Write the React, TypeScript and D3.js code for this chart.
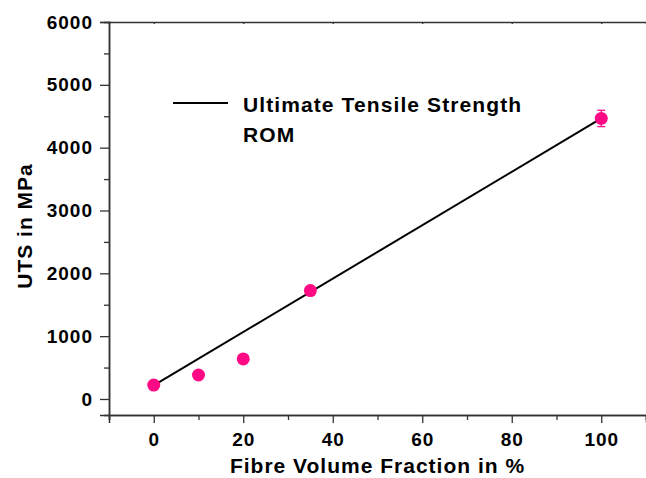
import React, { useEffect, useRef } from "react";
import * as d3 from "d3";

const width = 646;
const height = 478;
const margin = { top: 22, right: 0, bottom: 63, left: 109 };

// measured points
const fibreFraction = [0, 10, 20, 35, 100];
const utsValues = [222, 382, 637, 1725, 4465];
const utsErrors = [0, 0, 0, 0, 130];

// rule of mixtures line
const romFraction = [0, 100];
const romValues = [215, 4465];

const xMajor = [0, 20, 40, 60, 80, 100];
const xMinor = [-10, 10, 30, 50, 70, 90, 110];
const yMajor = [0, 1000, 2000, 3000, 4000, 5000, 6000];
const yMinor = [500, 1500, 2500, 3500, 4500, 5500];

const font = "'Liberation Sans', Arial, Helvetica, sans-serif";

const x = d3.scaleLinear().domain([-10, 110]).range([margin.left, width - margin.right]);
const y = d3.scaleLinear().domain([-255, 6000]).range([height - margin.bottom, margin.top]);

export default function App() {
  const xAxisRef = useRef<SVGGElement>(null);
  const yAxisRef = useRef<SVGGElement>(null);
  const xMinorRef = useRef<SVGGElement>(null);
  const yMinorRef = useRef<SVGGElement>(null);
  const topRef = useRef<SVGGElement>(null);

  useEffect(() => {
    const style = (g: d3.Selection<SVGGElement, unknown, null, undefined>) => {
      g.select(".domain").attr("stroke", "#333").attr("stroke-width", 1.5);
      g.selectAll(".tick line").attr("stroke", "#333").attr("stroke-width", 1.3);
      g.selectAll(".tick text")
        .attr("fill", "#000")
        .style("font-family", font)
        .style("font-size", "19px")
        .style("font-weight", "bold")
        .style("letter-spacing", "1px");
    };

    d3.select(xAxisRef.current!)
      .call(d3.axisBottom(x).tickValues(xMajor).tickSize(8).tickPadding(10).tickFormat(d3.format("d")))
      .call(style);
    d3.select(xMinorRef.current!)
      .call(d3.axisBottom(x).tickValues(xMinor).tickSize(5).tickFormat(() => ""))
      .call(style);
    d3.select(yAxisRef.current!)
      .call(d3.axisLeft(y).tickValues(yMajor).tickSize(9).tickPadding(7).tickFormat(d3.format("d")))
      .call(style);
    d3.select(yMinorRef.current!)
      .call(d3.axisLeft(y).tickValues(yMinor).tickSize(5).tickFormat(() => ""))
      .call(style);
    d3.select(topRef.current!)
      .call(d3.axisBottom(x).tickValues(xMajor).tickSize(2).tickFormat(() => ""))
      .call(style);
  }, []);

  const line = d3
    .line<number>()
    .x((d) => x(d))
    .y((_, i) => y(romValues[i]));

  const legendY = 103;

  return (
    <svg width={width} height={height} style={{ position: "absolute", left: 0, top: 0, background: "#fff" }}>
      <rect width={width} height={height} fill="#fff" />
      <path d={line(romFraction) ?? ""} fill="none" stroke="#000" strokeWidth={2} />

      {fibreFraction.map((f, i) =>
        utsErrors[i] > 0 ? (
          <g key={"e" + i} stroke="#ff0a84" strokeWidth={1.3}>
            <line x1={x(f)} x2={x(f)} y1={y(utsValues[i] - utsErrors[i])} y2={y(utsValues[i] + utsErrors[i])} />
            <line x1={x(f) - 4} x2={x(f) + 4} y1={y(utsValues[i] - utsErrors[i])} y2={y(utsValues[i] - utsErrors[i])} />
            <line x1={x(f) - 4} x2={x(f) + 4} y1={y(utsValues[i] + utsErrors[i])} y2={y(utsValues[i] + utsErrors[i])} />
          </g>
        ) : null
      )}
      {fibreFraction.map((f, i) => (
        <circle key={i} cx={x(f)} cy={y(utsValues[i])} r={6.5} fill="#ff0a84" />
      ))}

      <g ref={topRef} transform={`translate(0, ${margin.top})`} />
      <g ref={xMinorRef} transform={`translate(0, ${height - margin.bottom})`} />
      <g ref={xAxisRef} transform={`translate(0, ${height - margin.bottom})`} />
      <g ref={yMinorRef} transform={`translate(${margin.left}, 0)`} />
      <g ref={yAxisRef} transform={`translate(${margin.left}, 0)`} />

      <line x1={173} x2={228} y1={legendY} y2={legendY} stroke="#000" strokeWidth={2} />
      <text x={243} y={112} fontFamily={font} fontSize={21} fontWeight="bold" letterSpacing={1.1}>
        Ultimate Tensile Strength
      </text>
      <text x={243} y={142} fontFamily={font} fontSize={21} fontWeight="bold" letterSpacing={1.1}>
        ROM
      </text>

      <text
        x={(margin.left + width - margin.right) / 2}
        y={473}
        textAnchor="middle"
        fontFamily={font}
        fontSize={21}
        fontWeight="bold"
        letterSpacing={1}
      >
        Fibre Volume Fraction in %
      </text>
      <text
        transform={`translate(32, 226) rotate(-90)`}
        textAnchor="middle"
        fontFamily={font}
        fontSize={21}
        fontWeight="bold"
        letterSpacing={1}
      >
        UTS in MPa
      </text>
    </svg>
  );
}
